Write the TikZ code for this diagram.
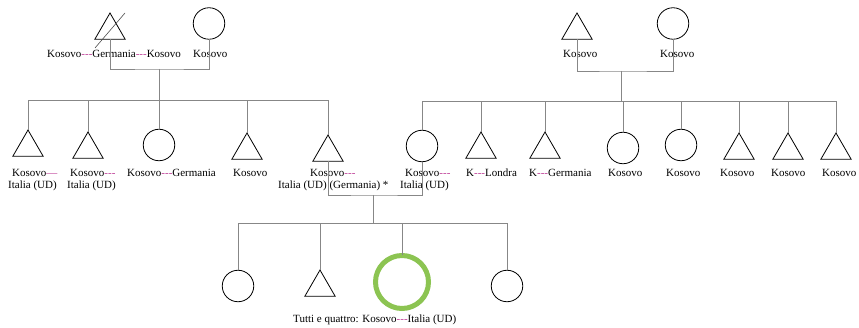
\documentclass[tikz,border=0pt]{standalone}
\usepackage{fontspec}
\setmainfont{Liberation Serif}
\usetikzlibrary{shapes.geometric}
\definecolor{linkgray}{RGB}{135,135,135}
\definecolor{dashmag}{RGB}{190,60,150}
\definecolor{markgreen}{RGB}{140,196,82}
\newcommand{\dsh}{{\color{dashmag}-{}-{}-}}
\begin{document}
\begin{tikzpicture}[x=1pt,y=-1pt,
  male/.style={draw=black,line width=0.8pt,regular polygon,regular polygon sides=3,
    minimum size=35pt,inner sep=0pt,outer sep=0pt},
  female/.style={draw=black,line width=0.8pt,circle,minimum size=31.5pt,inner sep=0pt,outer sep=0pt},
  marked/.style={draw=markgreen,line width=5pt,circle,minimum size=53pt,inner sep=0pt,outer sep=0pt},
  link/.style={draw=linkgray,line width=0.9pt},
  lbl/.style={anchor=base west,inner sep=0pt,font=\fontsize{11}{12}\selectfont}]
\useasboundingbox (0,0) rectangle (859,328);

% ---- labels ----
\node[lbl] (lt0) at (47,58) {Kosovo\dsh Germania\dsh Kosovo};
\node[lbl] (lm0) at (193,58) {Kosovo};
\node[lbl] (rt0) at (563,58) {Kosovo};
\node[lbl] (rm0) at (660,58) {Kosovo};

\node[lbl] (l1a) at (12,177) {Kosovo{\color{dashmag}\textemdash}};
\node[lbl] (l1b) at (8,189) {Italia (UD)};
\node[lbl] (l2a) at (70,177) {Kosovo\dsh};
\node[lbl] (l2b) at (67,189) {Italia (UD)};
\node[lbl] (l3) at (127,177) {Kosovo\dsh Germania};
\node[lbl] (l4) at (233,177) {Kosovo};
\node[lbl] (l5a) at (310,177) {Kosovo\dsh};
\node[lbl] (l5b) at (278,189) {Italia (UD) (Germania) *};
\node[lbl] (l6a) at (405,177) {Kosovo\dsh};
\node[lbl] (l6b) at (400,189) {Italia (UD)};
\node[lbl] (r2) at (466,177) {K\dsh Londra};
\node[lbl] (r3) at (529,177) {K\dsh Germania};
\node[lbl] (r4) at (608,177) {Kosovo};
\node[lbl] (r5) at (666,177) {Kosovo};
\node[lbl] (r6) at (720,177) {Kosovo};
\node[lbl] (r7) at (771,177) {Kosovo};
\node[lbl] (r8) at (822,177) {Kosovo};
\node[lbl] (lg) at (293,323) {Tutti e quattro: Kosovo\dsh Italia (UD)};

% ---- individuals ----
\node[male] (T0) at (110,30.5) {};
\node[female] (M0) at (209,23.5) {};
\node[male] (T1) at (577,30.5) {};
\node[female] (M1) at (673,23.5) {};

\node[male] (c1) at (28,147.5) {};
\node[male] (c2) at (88,149.5) {};
\node[female] (c3) at (159,145) {};
\node[male] (c4) at (247,150.5) {};
\node[male] (c5) at (328,152.5) {};
\node[female] (c6) at (422,146) {};
\node[male] (d2) at (481,149.5) {};
\node[male] (d3) at (545,149.5) {};
\node[female] (d4) at (623,148) {};
\node[female] (d5) at (681,145) {};
\node[male] (d6) at (739,150.5) {};
\node[male] (d7) at (788,150.5) {};
\node[male] (d8) at (836,150.5) {};

\node[female] (g1) at (238,286) {};
\node[male] (g2) at (320,287.5) {};
\node[marked] (g3) at (402,282) {};
\node[female] (g4) at (507,286) {};

% deceased mark
\draw[draw=black!70,line width=0.6pt] ([shift={(-15,17.5)}]T0.center) -- ([shift={(15,-17.5)}]T0.center);

% ---- junction points ----
\coordinate (m1) at (159,69);
\coordinate (s1) at (159,100);
\coordinate (m2) at (621,71);
\coordinate (s2) at (621,101);
\coordinate (m3) at (373,195);
\coordinate (s3) at (373,223);

% ---- couples ----
\draw[link] (T0.south) |- (m1) -| (M0.south);
\draw[link] (m1) -- (s1);
\draw[link] (T1.south) |- (m2) -| (M1.south);
\draw[link] (m2) -- (s2);
\draw[link] (c5.south) |- (m3) -| (c6.south);
\draw[link] (m3) -- (s3);

% ---- sibling lines ----
\foreach \k in {c1,c2,c3,c4,c5} \draw[link] (\k.north) |- (s1);
\foreach \k in {c6,d2,d3,d4,d5,d6,d7,d8} \draw[link] (\k.north) |- (s2);
\foreach \k in {g1,g2,g3,g4} \draw[link] (\k.north) |- (s3);
\end{tikzpicture}
\end{document}
